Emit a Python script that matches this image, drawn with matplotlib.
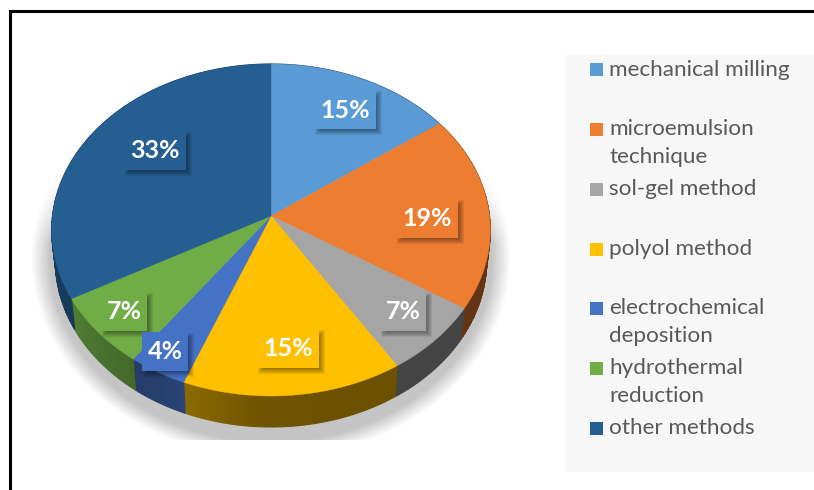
import numpy as np
import matplotlib
matplotlib.use('Agg')
import matplotlib.pyplot as plt
from matplotlib.patches import Polygon, Rectangle

categories = ['mechanical milling', 'microemulsion\ntechnique', 'sol-gel method', 'polyol method',
              'electrochemical\ndeposition', 'hydrothermal\nreduction', 'other methods']
values = [15, 19, 7, 15, 4, 7, 33]

colors = ['#5b9bd5', '#ed7d31', '#a5a5a5', '#ffc000', '#4472c4', '#70ad47', '#255e91']
# how dark the rim of each slice gets, from its start to its end
rim_shade = [(.42, .42), (.42, .42), (.41, .41), (.42, .42, .44, .55), (.60, .52), (.60, .72), (.62, .72)]
label_xy = [(345, 110), (427, 218), (403, 311), (288, 348), (165, 351), (124, 311), (155, 150)]
legend_y = [70, 129, 189, 249, 308, 368, 428]

# pie geometry, in pixels
cx, cy = 271, 216
rx = 218.5
k, p = 164.8, 0.0843  # perspective of the tilted disc
depth = 31


def project(theta, scale=1.0, dy=0.0):
    # theta in degrees, clockwise from the top
    t = np.radians(theta)
    d = 1 + p * np.cos(t)
    return cx + rx * scale * np.sin(t) / d, cy + dy - k * np.cos(t) / d


def draw_shadow(ax):
    xx, yy = np.meshgrid(np.arange(814) + .5, np.arange(490) + .5)
    d = np.hypot((xx - 271) / 240, (yy - 258) / 200)
    a = np.clip((1 - d) / .08, 0, 1) * np.clip((yy - 175) / 70, 0, 1) * .23
    a[yy > 440] = 0
    img = np.zeros((490, 814, 4))
    img[..., 3] = a
    ax.imshow(img, extent=(0, 814, 490, 0), zorder=1, interpolation='nearest', aspect='auto')


def draw_pie(ax):
    edges = np.concatenate([[0], np.cumsum(values)]) / np.sum(values) * 360
    for i, color in enumerate(colors):
        base = np.array(matplotlib.colors.to_rgb(color))
        steps = np.linspace(edges[i], edges[i + 1], max(int(edges[i + 1] - edges[i]), 2) + 1)
        shade_at = np.linspace(edges[i], edges[i + 1], len(rim_shade[i]))
        # rim first, in short pieces so the shade can change along it
        for a0, a1 in zip(steps[:-1], steps[1:]):
            f = np.interp((a0 + a1) / 2, shade_at, rim_shade[i])
            xt, yt = project(np.array([a0, a1]))
            xb, yb = project(np.array([a1, a0]), .983, depth)
            ax.add_patch(Polygon(np.c_[np.r_[xt, xb], np.r_[yt, yb]], fc=base * f, ec=base * f, lw=.8, zorder=2))
    for i, color in enumerate(colors):
        t = np.linspace(edges[i], edges[i + 1], 120)
        x, y = project(t)
        ax.add_patch(Polygon(np.c_[np.r_[cx, x], np.r_[cy, y]], fc=color, ec=color, lw=.3, zorder=3))


def draw_labels(ax):
    for v, color, (x, y) in zip(values, colors, label_xy):
        w = 62 if v >= 10 else 46
        h = 39
        # soft shadow: rectangles shrinking towards the lower right of the box
        for g in range(6):
            ax.add_patch(Rectangle((x - w / 2 + 1 + g, y - h / 2 + 1 + g), w + 5 - 2 * g, h + 5 - 2 * g,
                                   fc='black', ec='none', alpha=.07, zorder=4))
        ax.add_patch(Rectangle((x - w / 2, y - h / 2), w, h, fc=color, ec='none', zorder=5))
        ax.text(x, y, f'{v}%', color='white', fontsize=18, fontweight='bold', family='Lato',
                ha='center', va='center', zorder=6)


def draw_legend(ax):
    ax.add_patch(Rectangle((565, 55), 249, 417, fc='#f7f7f7', ec='none', zorder=1))
    for name, color, y in zip(categories, colors, legend_y):
        ax.add_patch(Rectangle((590, y - 6.5), 13, 13, fc=color, ec='none', zorder=2))
        ax.text(609, y - 10, name, color='#595959', fontsize=16.2, family='Lato',
                ha='left', va='top', linespacing=1.47, zorder=2)


fig = plt.figure(figsize=(8.14, 4.9), dpi=100)
ax = fig.add_axes([0, 0, 1, 1])
ax.set_xlim(0, 814)
ax.set_ylim(490, 0)
ax.axis('off')

draw_shadow(ax)
draw_pie(ax)
draw_labels(ax)
draw_legend(ax)

# frame of the picture, open at the right and the bottom
ax.plot([9.5, 9.5, 814], [490, 11.5, 11.5], color='black', lw=2.2, solid_joinstyle='miter', zorder=7)

fig.savefig('out.png', dpi=100)
